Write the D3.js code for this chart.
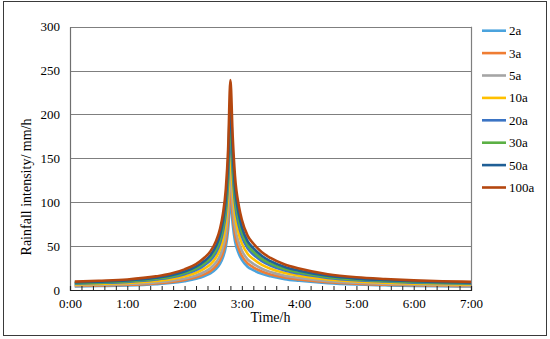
<!DOCTYPE html>
<html>
<head>
<meta charset="utf-8">
<script src="https://cdn.jsdelivr.net/npm/d3@7"></script>
<style>
body{margin:0;background:#fff;}
svg text{font-family:"Liberation Serif","Times New Roman",serif;fill:#000;}
</style>
</head>
<body>
<div id="chart"></div>
<script>
// time of each reading, hours
var times = [0.083,0.5,1.0,1.5,1.75,2.0,2.2,2.35,2.45,2.55,2.62,2.67,2.72,2.76,2.8,2.84,2.88,2.95,3.0,3.1,3.2,3.35,3.5,3.75,4.0,4.5,5.0,5.5,6.0,6.5,7.0];

var names = ["2a","3a","5a","10a","20a","30a","50a","100a"];
var colors = ["#4ba3dd","#ef7d33","#a5a5a5","#ffc000","#3b74c4","#5bb044","#1f5f96","#b4470f"];

// rainfall intensity mm/h
var i2a   = [4.1,4.5,5.1,6.6,7.9,10.1,12.7,15.9,18.9,24.0,30.0,37.3,49.3,68.6,102.5,75.1,55.8,40.8,34.3,26.6,22.7,18.4,15.7,12.4,10.5,7.7,6.2,5.4,4.7,4.3,4.0];
var i3a   = [4.6,5.1,5.9,7.6,9.0,11.5,14.4,18.1,21.5,27.3,34.2,42.5,56.1,78.1,116.6,85.4,63.4,46.4,39.0,30.3,25.9,21.0,17.8,14.2,12.0,8.8,7.1,6.1,5.4,4.9,4.5];
var i5a   = [5.3,5.9,6.8,8.7,10.4,13.2,16.6,20.8,24.8,31.5,39.4,48.9,64.7,90.0,134.5,98.4,73.1,53.4,45.0,34.9,29.8,24.2,20.5,16.3,13.8,10.1,8.2,7.0,6.2,5.6,5.2];
var i10a  = [6.3,7.0,8.0,10.3,12.3,15.6,19.6,24.6,29.2,37.2,46.5,57.8,76.4,106.2,158.7,116.2,86.3,63.1,53.1,41.2,35.2,28.6,24.2,19.3,16.3,12.0,9.6,8.3,7.3,6.6,6.2];
var i20a  = [7.3,8.0,9.2,11.9,14.2,18.0,22.6,28.3,33.7,42.8,53.6,66.6,88.0,122.4,182.9,133.9,99.5,72.7,61.2,47.4,40.5,32.9,27.9,22.2,18.7,13.8,11.1,9.6,8.4,7.7,7.1];
var i30a  = [7.8,8.7,9.9,12.8,15.2,19.4,24.3,30.5,36.3,46.1,57.7,71.7,94.8,131.8,197.1,144.2,107.1,78.3,65.9,51.1,43.7,35.4,30.1,23.9,20.2,14.8,11.9,10.3,9.1,8.2,7.7];
var i50a  = [8.5,9.4,10.8,13.9,16.6,21.1,26.5,33.3,39.6,50.3,62.9,78.2,103.4,143.8,214.9,157.3,116.9,85.4,71.9,55.7,47.6,38.7,32.8,26.1,22.0,16.2,13.0,11.2,9.9,9.0,8.4];
var i100a = [9.5,10.5,12.0,15.5,18.5,23.5,29.5,37,44,56,70,87,115,160,239.1,175,130,95,80,62,53,43,36.5,29,24.5,18,14.5,12.5,11,10,9.3];

var series = [i2a,i3a,i5a,i10a,i20a,i30a,i50a,i100a];

var yTicks = [0,50,100,150,200,250,300];
var xLabels = ["0:00","1:00","2:00","3:00","4:00","5:00","6:00","7:00"];

var W = 550, H = 339;
var plotL = 70, plotR = 471, plotT = 26.7, plotB = 290;
var serif = "Liberation Serif, Times New Roman, serif";

var svg = d3.select("#chart").append("svg")
	.attr("width",W)
	.attr("height",H)
	.attr("font-family",serif);

// outer frame
svg.append("rect")
	.attr("x",3.5).attr("y",1.5)
	.attr("width",543).attr("height",334)
	.attr("fill","none")
	.attr("stroke","#3a3a3a")
	.attr("stroke-width",1);

var x = d3.scaleLinear().domain([0,7]).range([plotL,plotR]);
var y = d3.scaleLinear().domain([0,300]).range([plotB,plotT]);

// gridlines
svg.append("g").selectAll("line")
	.data(yTicks.filter(function(d){return d>0;}))
	.enter().append("line")
	.attr("x1",plotL).attr("x2",plotR)
	.attr("y1",function(d){return Math.round(y(d))+0.5;})
	.attr("y2",function(d){return Math.round(y(d))+0.5;})
	.attr("stroke","#7f7f7f")
	.attr("stroke-width",1.2);

// right border of plot
svg.append("line")
	.attr("x1",plotR+0.5).attr("x2",plotR+0.5)
	.attr("y1",y(300)).attr("y2",plotB)
	.attr("stroke","#7f7f7f").attr("stroke-width",1.2);

// y axis
var yAxis = d3.axisLeft(y).tickValues(yTicks).tickSize(0).tickPadding(10);
var gy = svg.append("g").attr("transform","translate("+plotL+",0)").call(yAxis);
gy.attr("font-family",serif);
gy.select(".domain").attr("stroke","#6f6f6f").attr("stroke-width",1.2);
gy.selectAll("text").style("font-size","13px");

// series lines
var line = d3.line()
	.x(function(d){return x(d[0]);})
	.y(function(d){return y(d[1]);})
	.curve(d3.curveMonotoneX);

for (var s=0;s<series.length;s++){
	var pts = times.map(function(t,i){return [t,series[s][i]];});
	svg.append("path")
		.datum(pts)
		.attr("d",line)
		.attr("fill","none")
		.attr("stroke",colors[s])
		.attr("stroke-width",2.6)
		.attr("stroke-linejoin","round");
}

// x axis
var xAxis = d3.axisBottom(x)
	.tickValues(d3.range(0,36).map(function(k){return k*0.2;}))
	.tickSize(-4)
	.tickPadding(9)
	.tickFormat(function(d){
		var r = Math.round(d*5);
		return (r%5==0) ? xLabels[r/5] : "";
	});
var gx = svg.append("g").attr("transform","translate(0,"+plotB+")").call(xAxis);
gx.attr("font-family",serif);
gx.select(".domain").attr("stroke","#222").attr("stroke-width",1.2);
gx.selectAll(".tick line").attr("stroke","#222");
gx.selectAll("text").style("font-size","13px");

// axis titles
svg.append("text")
	.attr("x",(plotL+plotR)/2)
	.attr("y",322)
	.attr("text-anchor","middle")
	.style("font-size","14px")
	.text("Time/h");

svg.append("text")
	.attr("transform","translate(31,187) rotate(-90)")
	.attr("text-anchor","middle")
	.style("font-size","14px")
	.text("Rainfall intensity/ mm/h");

// legend
var legend = svg.append("g");
for (var k=0;k<names.length;k++){
	var ly = 30.7 + k*22.4;
	legend.append("line")
		.attr("x1",482).attr("x2",506)
		.attr("y1",ly).attr("y2",ly)
		.attr("stroke",colors[k])
		.attr("stroke-width",2.6);
	legend.append("text")
		.attr("x",509)
		.attr("y",ly+4.5)
		.style("font-size","13px")
		.text(names[k]);
}
</script>
</body>
</html>
